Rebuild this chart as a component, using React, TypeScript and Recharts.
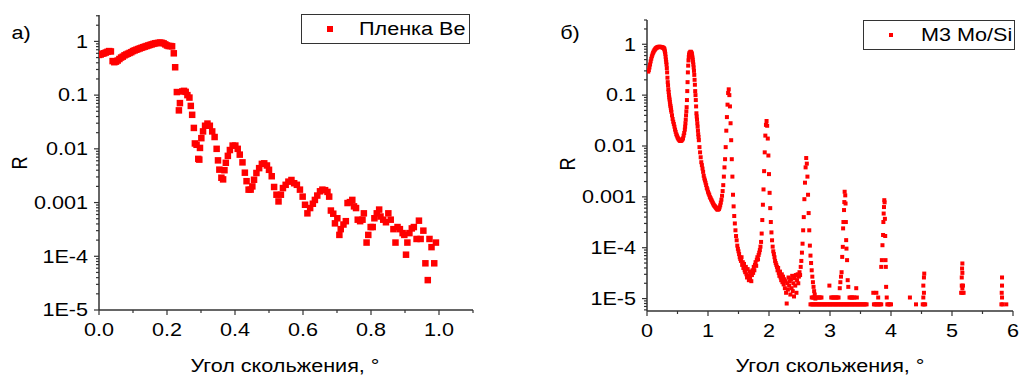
import React from "react";
import { ScatterChart, Scatter, XAxis, YAxis, Legend } from "recharts";

const FONT = '"Liberation Sans", Arial, sans-serif';
const RED = "#ff0000";
const AXIS = "#333333";

// а) Be film: grazing angle (deg) / reflectivity
const beAngle = [
  0, 0.005, 0.01, 0.015, 0.02, 0.025, 0.03, 0.035, 0.04, 0.045,
  0.05, 0.055, 0.06, 0.065, 0.07, 0.075, 0.08, 0.085, 0.09, 0.095,
  0.1, 0.105, 0.11, 0.115, 0.12, 0.125, 0.13, 0.135, 0.14, 0.145,
  0.15, 0.155, 0.16, 0.165, 0.17, 0.175, 0.18, 0.185, 0.19, 0.195,
  0.2, 0.205, 0.21, 0.215, 0.22, 0.224, 0.229, 0.235, 0.238, 0.245,
  0.25, 0.255, 0.26, 0.266, 0.27, 0.274, 0.279, 0.282, 0.287, 0.292,
  0.295, 0.297, 0.301, 0.306, 0.312, 0.319, 0.326, 0.333, 0.34, 0.346,
  0.35, 0.354, 0.36, 0.365, 0.369, 0.373, 0.379, 0.385, 0.393, 0.401,
  0.408, 0.414, 0.422, 0.429, 0.434, 0.44, 0.446, 0.451, 0.456, 0.463,
  0.471, 0.479, 0.486, 0.494, 0.5, 0.508, 0.515, 0.522, 0.528, 0.535,
  0.541, 0.549, 0.557, 0.566, 0.574, 0.582, 0.591, 0.599, 0.606, 0.613,
  0.621, 0.629, 0.635, 0.642, 0.65, 0.657, 0.665, 0.672, 0.677, 0.682,
  0.689, 0.694, 0.701, 0.707, 0.711, 0.719, 0.726, 0.731, 0.738, 0.745,
  0.75, 0.756, 0.761, 0.768, 0.775, 0.779, 0.787, 0.792, 0.799, 0.805,
  0.81, 0.817, 0.824, 0.828, 0.836, 0.844, 0.851, 0.858, 0.866, 0.872,
  0.878, 0.885, 0.893, 0.898, 0.903, 0.907, 0.913, 0.92, 0.926, 0.934,
  0.941, 0.946, 0.954, 0.96, 0.967, 0.972, 0.978, 0.986, 0.991,
];
const beRefl = [
  0.56, 0.57, 0.59, 0.6, 0.62, 0.64, 0.66, 0.65, 0.43, 0.41,
  0.42, 0.44, 0.47, 0.5, 0.52, 0.55, 0.57, 0.59, 0.61, 0.63,
  0.66, 0.68, 0.7, 0.72, 0.74, 0.76, 0.78, 0.8, 0.82, 0.84,
  0.86, 0.88, 0.9, 0.92, 0.93, 0.94, 0.95, 0.94, 0.92, 0.88,
  0.84, 0.82, 0.82, 0.81, 0.6, 0.33, 0.114, 0.052, 0.071, 0.117,
  0.12, 0.115, 0.1, 0.09, 0.063, 0.043, 0.0245, 0.0126, 0.0119, 0.0065,
  0.0063, 0.0104, 0.0158, 0.0211, 0.0269, 0.0295, 0.0269, 0.0211, 0.0166, 0.01,
  0.0061, 0.0041, 0.0029, 0.0027, 0.004, 0.0055, 0.0074, 0.0095, 0.0115, 0.0115,
  0.01, 0.0078, 0.0056, 0.0036, 0.0025, 0.00174, 0.00174, 0.002, 0.00266, 0.00355,
  0.00437, 0.00525, 0.00537, 0.0049, 0.00407, 0.00309, 0.00195, 0.0014, 0.00105, 0.0014,
  0.00186, 0.00214, 0.00245, 0.00263, 0.00229, 0.00214, 0.00174, 0.00129, 0.00091, 0.00063,
  0.00079, 0.00095, 0.00112, 0.00135, 0.00162, 0.00174, 0.0017, 0.00158, 0.00129, 0.00071,
  0.00062, 0.00041, 0.00051, 0.00025, 0.00032, 0.00039, 0.00045, 0.00098, 0.00102, 0.00112,
  0.00085, 0.00079, 0.00048, 0.00045, 0.00048, 0.00063, 0.00018, 0.00025, 0.00035, 0.00035,
  0.00051, 0.00063, 0.00074, 0.00055, 0.00048, 0.00043, 0.00063, 0.00048, 0.00032, 0.00018,
  0.00035, 0.00032, 0.00027, 0.00025, 0.000107, 0.00018, 0.00027, 0.00033, 0.00035, 0.00021,
  0.00046, 0.00021, 0.0003, 7.4e-5, 3.6e-5, 0.00021, 0.000148, 7.4e-5, 0.00018,
];

// б) Mo/Si mirror M3
const moSiAngle = [
  0.02, 0.03, 0.04, 0.05, 0.06, 0.07, 0.08, 0.09,
  0.1, 0.11, 0.12, 0.13, 0.14, 0.15, 0.16, 0.17, 0.18, 0.19,
  0.2, 0.21, 0.22, 0.23, 0.24, 0.25, 0.26, 0.27, 0.28, 0.29,
  0.3, 0.31, 0.32, 0.33, 0.34, 0.35, 0.36, 0.37, 0.38, 0.39,
  0.4, 0.41, 0.42, 0.43, 0.44, 0.45, 0.46, 0.47, 0.48, 0.49,
  0.5, 0.51, 0.52, 0.53, 0.54, 0.55, 0.56, 0.57, 0.58, 0.59,
  0.6, 0.61, 0.62, 0.63, 0.64, 0.65, 0.66, 0.67, 0.68, 0.69,
  0.7, 0.71, 0.72, 0.73, 0.74, 0.75, 0.76, 0.77, 0.78, 0.79,
  0.8, 0.81, 0.82, 0.83, 0.84, 0.85, 0.86, 0.87, 0.88, 0.89,
  0.9, 0.91, 0.92, 0.93, 0.94, 0.95, 0.96, 0.97, 0.98, 0.99,
  1.0, 1.01, 1.02, 1.03, 1.04, 1.05, 1.06, 1.07, 1.08, 1.09,
  1.1, 1.11, 1.12, 1.13, 1.14, 1.15, 1.16, 1.17, 1.18, 1.19,
  1.2, 1.21, 1.22, 1.23, 1.24, 1.25, 1.26, 1.27, 1.28, 1.29,
  1.3, 1.31, 1.32, 1.33, 1.34, 1.35, 1.36, 1.37, 1.38, 1.39,
  1.4, 1.41, 1.42, 1.43, 1.44, 1.45, 1.46, 1.47, 1.48, 1.49,
  1.5, 1.51, 1.52, 1.53, 1.54, 1.55, 1.56, 1.57, 1.58, 1.59,
  1.6, 1.61, 1.62, 1.63, 1.64, 1.65, 1.66, 1.67, 1.68, 1.69,
  1.7, 1.71, 1.72, 1.73, 1.74, 1.75, 1.76, 1.77, 1.78, 1.79,
  1.8, 1.81, 1.82, 1.83, 1.84, 1.85, 1.86, 1.87, 1.88, 1.89,
  1.9, 1.91, 1.92, 1.93, 1.94, 1.95, 1.96, 1.97, 1.98, 1.99,
  2.0, 2.01, 2.02, 2.03, 2.04, 2.05, 2.06, 2.07, 2.08, 2.09,
  2.1, 2.11, 2.12, 2.13, 2.14, 2.15, 2.16, 2.17, 2.18, 2.19,
  2.2, 2.21, 2.22, 2.23, 2.24, 2.25, 2.26, 2.27, 2.28, 2.29,
  2.3, 2.31, 2.32, 2.33, 2.34, 2.35, 2.36, 2.37, 2.38, 2.39,
  2.4, 2.41, 2.42, 2.43, 2.44, 2.45, 2.46, 2.47, 2.48, 2.49,
  2.5, 2.51, 2.52, 2.53, 2.54, 2.55, 2.56, 2.57, 2.58, 2.59,
  2.6, 2.61, 2.62, 2.63, 2.64, 2.65, 2.66, 2.67, 2.68, 2.69,
  2.7, 2.71, 2.72, 2.73, 2.74, 2.75, 2.76,
  // extra points on the steep parts of the first two fringes
  0.285, 0.295, 0.305, 0.315, 0.325, 0.335, 0.345, 0.355, 0.365, 0.375, 0.385, 0.395,
  0.625, 0.635, 0.645, 0.655, 0.665, 0.675, 0.685, 0.695, 0.735, 0.745,
  0.755, 0.765, 0.775, 0.785, 0.795, 0.805, 0.815, 0.825, 0.835, 0.845,
  // detector floor
  2.68, 2.7, 2.72, 2.74, 2.76, 2.78, 2.8, 2.82, 2.84, 2.86,
  2.88, 2.9, 2.92, 2.94, 2.96, 2.98, 3.0, 3.02, 3.04, 3.06,
  3.08, 3.1, 3.12, 3.14, 3.16, 3.18, 3.2, 3.22, 3.24, 3.26,
  3.28, 3.3, 3.32, 3.34, 3.36, 3.38, 3.4, 3.42, 3.44, 3.46,
  3.48, 3.5, 3.52, 3.54, 3.56, 3.58, 3.6,
  2.7, 2.72, 2.74, 2.78, 2.8, 2.82, 2.84, 2.86, 3.02, 3.04,
  3.06, 3.08, 3.1, 3.12, 3.14, 3.32, 3.34, 3.36, 3.38, 3.4, 3.44,
  2.99, 3.43,
  // 5th order
  3.16, 3.17, 3.18, 3.19, 3.2, 3.21, 3.215, 3.22, 3.23, 3.235,
  3.24, 3.25, 3.255, 3.26, 3.265, 3.27, 3.28, 3.29, 3.3,
  3.71, 3.76, 3.79, 3.72, 3.74, 3.76, 3.78, 3.8, 3.82, 3.84,
  // 6th order
  3.84, 3.85, 3.86, 3.87, 3.875, 3.88, 3.885, 3.89, 3.895, 3.9,
  3.905, 3.91, 3.915, 3.92, 3.93, 3.94, 3.96, 3.98, 4.0,
  4.31, 4.41, 4.52, 4.54, 4.56, 4.53, 4.54, 4.53, 4.54, 4.545,
  5.15, 5.17, 5.16, 5.17, 5.16, 5.17, 5.165, 5.17, 5.18, 5.19,
  5.81, 5.83, 5.82, 5.815, 5.82, 5.82, 5.89,
];
const moSiRefl = [
  0.29, 0.31, 0.35, 0.4, 0.46, 0.52, 0.58, 0.63,
  0.68, 0.72, 0.76, 0.79, 0.82, 0.84, 0.86, 0.87, 0.88, 0.89,
  0.89, 0.89, 0.89, 0.88, 0.88, 0.87, 0.86, 0.85, 0.83, 0.75,
  0.65, 0.5, 0.4, 0.28, 0.18, 0.13, 0.1, 0.082, 0.066, 0.056,
  0.047, 0.04, 0.034, 0.03, 0.027, 0.024, 0.021, 0.019, 0.017, 0.016,
  0.0148, 0.0141, 0.0135, 0.013, 0.0127, 0.0126, 0.0127, 0.013, 0.0135, 0.0141,
  0.016, 0.018, 0.021, 0.028, 0.04, 0.058, 0.12, 0.28, 0.48, 0.62,
  0.68, 0.71, 0.71, 0.68, 0.6, 0.5, 0.4, 0.3, 0.2, 0.12,
  0.08, 0.044, 0.033, 0.024, 0.017, 0.013, 0.0095, 0.0075, 0.006, 0.0048,
  0.0042, 0.0036, 0.0031, 0.0026, 0.0023, 0.0021, 0.0019, 0.0017, 0.0015, 0.0014,
  0.00126, 0.00117, 0.0011, 0.001, 0.00095, 0.00089, 0.00085, 0.0008, 0.00075, 0.00071,
  0.00068, 0.00066, 0.00063, 0.00061, 0.00059, 0.00057, 0.00056, 0.00057, 0.00058, 0.00062,
  0.00068, 0.00077, 0.00088, 0.00105, 0.0013, 0.0017, 0.0025, 0.0038, 0.0055, 0.0095,
  0.02, 0.037, 0.065, 0.11, 0.13, 0.1, 0.06, 0.028, 0.013, 0.0055,
  0.0025, 0.0011, 0.00065, 0.00042, 0.0003, 0.00022, 0.00017, 0.00014, 0.00011, 9.5e-5,
  8.5e-5, 7.5e-5, 6.5e-5, 6e-5, 5.5e-5, 6.5e-5, 4.6e-5, 5.2e-5, 4e-5, 4.8e-5,
  3.6e-5, 3.3e-5, 4.2e-5, 3e-5, 2.6e-5, 3.8e-5, 2.8e-5, 2.3e-5, 3.4e-5, 2.5e-5,
  3.1e-5, 2.2e-5, 2.9e-5, 3.6e-5, 3.2e-5, 4.2e-5, 3.6e-5, 4.6e-5, 5.2e-5, 4.4e-5,
  5.8e-5, 6.5e-5, 5.9e-5, 7.2e-5, 8e-5, 9e-5, 1.05e-4, 1.3e-4, 1.9e-4, 3.5e-4,
  7e-4, 0.0014, 0.0032, 0.0075, 0.016, 0.026, 0.031, 0.025, 0.014, 0.0065,
  0.0028, 0.0012, 6e-4, 3.2e-4, 2e-4, 1.4e-4, 1.05e-4, 8.5e-5, 7.5e-5, 6.5e-5,
  5.5e-5, 5e-5, 4.6e-5, 4.2e-5, 3.6e-5, 4e-5, 3.2e-5, 2.8e-5, 3.4e-5, 2.6e-5,
  2.3e-5, 3e-5, 2.1e-5, 2.7e-5, 1.9e-5, 2.4e-5, 1.6e-5, 2.2e-5, 1.3e-5, 8e-6,
  2e-5, 1.5e-5, 2.6e-5, 1.8e-5, 2.2e-5, 1.2e-5, 2.4e-5, 1.6e-5, 2.8e-5, 1.4e-5,
  2e-5, 1.1e-5, 2.5e-5, 1.8e-5, 2.9e-5, 1.3e-5, 2.3e-5, 3e-5, 2e-5, 2.7e-5,
  3.3e-5, 2.9e-5, 4.2e-5, 5.5e-5, 8e-5, 1.2e-4, 2.2e-4, 4e-4, 9e-4, 0.0019,
  0.0038, 0.0058, 0.0045, 0.0025, 0.0011, 4.8e-4, 2.2e-4, 1.1e-4, 7e-5, 5e-5,
  3.6e-5, 2.7e-5, 2.1e-5, 1.7e-5, 1.4e-5, 1.2e-5, 1e-5,
  0.8, 0.7, 0.57, 0.45, 0.34, 0.22, 0.155, 0.115, 0.09, 0.074, 0.061, 0.051,
  0.024, 0.033, 0.048, 0.08, 0.18, 0.38, 0.56, 0.66, 0.65, 0.55,
  0.45, 0.35, 0.25, 0.16, 0.1, 0.06, 0.038, 0.028, 0.02, 0.015,
  7.7e-6, 7.7e-6, 7.7e-6, 7.7e-6, 7.7e-6, 7.7e-6, 7.7e-6, 7.7e-6, 7.7e-6, 7.7e-6,
  7.7e-6, 7.7e-6, 7.7e-6, 7.7e-6, 7.7e-6, 7.7e-6, 7.7e-6, 7.7e-6, 7.7e-6, 7.7e-6,
  7.7e-6, 7.7e-6, 7.7e-6, 7.7e-6, 7.7e-6, 7.7e-6, 7.7e-6, 7.7e-6, 7.7e-6, 7.7e-6,
  7.7e-6, 7.7e-6, 7.7e-6, 7.7e-6, 7.7e-6, 7.7e-6, 7.7e-6, 7.7e-6, 7.7e-6, 7.7e-6,
  7.7e-6, 7.7e-6, 7.7e-6, 7.7e-6, 7.7e-6, 7.7e-6, 7.7e-6,
  1.05e-5, 1.05e-5, 1.05e-5, 1.05e-5, 1.05e-5, 1.05e-5, 1.05e-5, 1.05e-5, 1.05e-5, 1.05e-5,
  1.05e-5, 1.05e-5, 1.05e-5, 1.05e-5, 1.05e-5, 1.05e-5, 1.05e-5, 1.05e-5, 1.05e-5, 1.05e-5, 1.05e-5,
  1.8e-5, 1.6e-5,
  1.6e-5, 2.1e-5, 2.7e-5, 3.3e-5, 6.6e-5, 1.04e-4, 2.4e-4, 3.2e-4, 5.5e-4, 7.9e-4,
  0.00126, 0.00107, 7.4e-4, 3.2e-4, 1.41e-4, 9.6e-5, 5.7e-5, 2.3e-5, 1.7e-5,
  1.3e-5, 1.3e-5, 1.05e-5, 7.7e-6, 7.7e-6, 7.7e-6, 7.7e-6, 7.7e-6, 7.7e-6, 7.7e-6,
  4.2e-5, 5.7e-5, 1.12e-4, 1.78e-4, 3.2e-4, 4.7e-4, 6.3e-4, 8.6e-4, 7.8e-4, 3.7e-4,
  1.7e-4, 5.7e-5, 4.2e-5, 1.7e-5, 1.05e-5, 7.7e-6, 7.7e-6, 7.7e-6, 7.7e-6,
  1.05e-5, 7.7e-6, 7.7e-6, 7.7e-6, 7.7e-6, 1.05e-5, 1.3e-5, 1.8e-5, 2.6e-5, 3.1e-5,
  1.3e-5, 1.3e-5, 1.8e-5, 1.6e-5, 2.6e-5, 3.2e-5, 3.9e-5, 4.9e-5, 1.8e-5, 1.3e-5,
  7.7e-6, 7.7e-6, 1.05e-5, 1.3e-5, 1.8e-5, 2.6e-5, 7.7e-6,
];

const yMajor = [1e-5, 1e-4, 0.001, 0.01, 0.1, 1];
const yLabels = ["1E-5", "1E-4", "0.001", "0.01", "0.1", "1"];
const yDecades = [1e-6, 1e-5, 1e-4, 0.001, 0.01, 0.1, 1];
const minorSteps = [2, 3, 4, 5, 6, 7, 8, 9];

const beXMajor = [0, 0.2, 0.4, 0.6, 0.8, 1.0];
const beXLabels = ["0.0", "0.2", "0.4", "0.6", "0.8", "1.0"];
const beXMinor = [0.1, 0.3, 0.5, 0.7, 0.9, 1.1];

const moSiXMajor = [0, 1, 2, 3, 4, 5, 6];
const moSiXLabels = ["0", "1", "2", "3", "4", "5", "6"];
const moSiXMinor = [0.5, 1.5, 2.5, 3.5, 4.5, 5.5];

const beData = beAngle.map((a, i) => ({ angle: a, r: beRefl[i] }));
const moSiData = moSiAngle.map((a, i) => ({ angle: a, r: moSiRefl[i] }));

const logTicks = (bottom: number, top: number) => {
  const out: number[] = [];
  yDecades.forEach((d) => {
    if (d >= bottom && d <= top) out.push(d);
    minorSteps.forEach((m) => {
      const v = m * d;
      if (v >= bottom && v <= top) out.push(v);
    });
  });
  return out;
};

const labelText = {
  fontSize: 18,
  fontFamily: FONT,
  fill: "#000",
};

const YTick = (props: any) => {
  const { x, y, payload } = props;
  const i = yMajor.findIndex((t) => Math.abs(t - payload.value) < t * 1e-6);
  const len = i >= 0 ? 5 : 3;
  return (
    <g>
      <line x1={x - len} x2={x} y1={y} y2={y} stroke={AXIS} strokeWidth={1.2} />
      {i >= 0 && (
        <text
          transform={`translate(${x - 11},${y}) scale(1.2,1)`}
          textAnchor="end"
          dominantBaseline="central"
          {...labelText}
        >
          {yLabels[i]}
        </text>
      )}
    </g>
  );
};

const makeXTick = (major: number[], labels: string[]) => (props: any) => {
  const { x, y, payload } = props;
  const i = major.findIndex((t) => Math.abs(t - payload.value) < 1e-9);
  const len = i >= 0 ? 5 : 3;
  return (
    <g>
      <line x1={x} x2={x} y1={y} y2={y + len} stroke={AXIS} strokeWidth={1.2} />
      {i >= 0 && (
        <text
          transform={`translate(${x},${y + 20}) scale(1.2,1)`}
          textAnchor="middle"
          dominantBaseline="central"
          {...labelText}
        >
          {labels[i]}
        </text>
      )}
    </g>
  );
};

const square = (size: number) => (p: any) => (
  <rect x={p.cx - size / 2} y={p.cy - size / 2} width={size} height={size} fill={RED} />
);

const textStyle: React.CSSProperties = {
  position: "absolute",
  fontSize: 18,
  lineHeight: 1,
  fontFamily: FONT,
  color: "#000",
  whiteSpace: "nowrap",
};

const Centered = ({ x, y, children, rotate }: any) => (
  <div
    style={{
      ...textStyle,
      left: x,
      top: y,
      transform: rotate
        ? "translate(-50%, -50%) rotate(-90deg) scaleY(1.2)"
        : "translate(-50%, -50%) scaleX(1.2)",
    }}
  >
    {children}
  </div>
);

const LegendBox = ({ width, size, label, markerX }: any) => (
  <div
    style={{
      width,
      height: 30,
      border: `1px solid ${AXIS}`,
      boxSizing: "border-box",
      position: "relative",
      background: "#fff",
    }}
  >
    <div
      style={{
        position: "absolute",
        left: markerX - size / 2,
        top: 14 - size / 2,
        width: size,
        height: size,
        background: RED,
      }}
    />
    <span
      style={{
        ...textStyle,
        left: 57,
        top: 14,
        transform: "translateY(-50%) scaleX(1.2)",
        transformOrigin: "left center",
      }}
    >
      {label}
    </span>
  </div>
);

const axisLine = { stroke: AXIS, strokeWidth: 1.5 };

export default function App() {
  return (
    <div
      style={{
        position: "absolute",
        left: 0,
        top: 0,
        width: 1020,
        height: 379,
        background: "#fff",
        overflow: "hidden",
      }}
    >
      <div style={{ position: "absolute", left: 0, top: 0 }}>
        <ScatterChart width={510} height={379} margin={{ top: 15, right: 37, bottom: 39, left: 39 }}>
          <XAxis
            type="number"
            dataKey="angle"
            domain={[0, 1.1]}
            allowDataOverflow
            ticks={[...beXMajor, ...beXMinor]}
            interval={0}
            tickSize={0}
            tickMargin={0}
            tickLine={false}
            axisLine={axisLine}
            tick={makeXTick(beXMajor, beXLabels)}
          />
          <YAxis
            type="number"
            dataKey="r"
            scale="log"
            domain={[1e-5, 3.1]}
            allowDataOverflow
            ticks={logTicks(1e-5, 3.1)}
            interval={0}
            tickSize={0}
            tickMargin={0}
            tickLine={false}
            axisLine={axisLine}
            tick={YTick}
          />
          <Legend
            layout="horizontal"
            verticalAlign="middle"
            align="center"
            wrapperStyle={{ left: 301, top: 14, width: 169, height: 30 }}
            content={(p: any) => (
              <LegendBox width={169} size={6.5} markerX={28} label={p.payload?.[0]?.value} />
            )}
          />
          <Scatter name="Пленка Be" data={beData} shape={square(6.5)} isAnimationActive={false} />
        </ScatterChart>
      </div>

      <div style={{ position: "absolute", left: 510, top: 0 }}>
        <ScatterChart width={510} height={379} margin={{ top: 20, right: 7, bottom: 38, left: 77 }}>
          <XAxis
            type="number"
            dataKey="angle"
            domain={[0, 6]}
            allowDataOverflow
            ticks={[...moSiXMajor, ...moSiXMinor]}
            interval={0}
            tickSize={0}
            tickMargin={0}
            tickLine={false}
            axisLine={axisLine}
            tick={makeXTick(moSiXMajor, moSiXLabels)}
          />
          <YAxis
            type="number"
            dataKey="r"
            scale="log"
            domain={[5.7e-6, 3]}
            allowDataOverflow
            ticks={logTicks(5.7e-6, 3)}
            interval={0}
            tickSize={0}
            tickMargin={0}
            tickLine={false}
            axisLine={axisLine}
            tick={YTick}
          />
          <Legend
            layout="horizontal"
            verticalAlign="middle"
            align="center"
            wrapperStyle={{ left: 353, top: 20, width: 152, height: 30 }}
            content={(p: any) => (
              <LegendBox width={152} size={4} markerX={27} label={p.payload?.[0]?.value} />
            )}
          />
          <Scatter name="М3 Mo/Si" data={moSiData} shape={square(4)} isAnimationActive={false} />
        </ScatterChart>
      </div>

      <Centered x={21} y={33}>а)</Centered>
      <Centered x={570} y={33}>б)</Centered>
      <Centered x={20} y={163} rotate>R</Centered>
      <Centered x={568} y={164} rotate>R</Centered>
      <Centered x={285} y={366}>Угол скольжения, °</Centered>
      <Centered x={830} y={366}>Угол скольжения, °</Centered>
    </div>
  );
}
